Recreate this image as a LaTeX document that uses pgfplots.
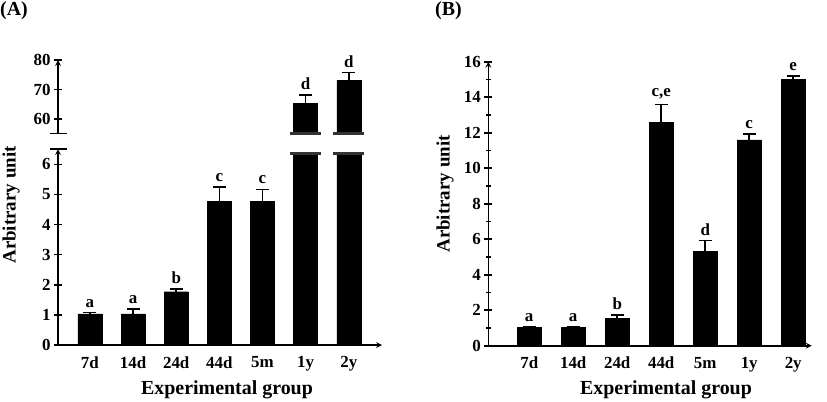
\documentclass[border=0pt]{standalone}
\usepackage{pgfplots}
\pgfplotsset{compat=1.18}
\usepackage{fontspec}
\setmainfont{Liberation Serif}
\pgfplotstableread{
x y e
0 1.03 0.05
1 1.03 0.16
2 1.77 0.10
3 4.76 0.48
4 4.76 0.41
}\Alow
\pgfplotstableread{
x y
5 6.36
6 6.36
}\Alowbig
\pgfplotstableread{
x y e
5 65.3 2.9
6 73.0 2.7
}\Aup
\pgfplotstableread{
x y e
0 1.02 0.06
1 1.02 0.05
2 1.54 0.18
3 12.58 1.02
4 5.30 0.62
5 11.59 0.32
6 15.00 0.19
}\Bdat
\tikzset{lett/.style={font=\fontsize{17}{17}\selectfont\bfseries, anchor=south, inner sep=1bp, yshift=4bp}}
\begin{document}
\begin{tikzpicture}
\path[use as bounding box] (0bp,0bp) rectangle (827bp,-402bp);
\pgfplotsset{
  base/.style={scale only axis, anchor=south west, clip mode=individual,
    axis line style={line width=1.6bp,-},
    every inner x axis line/.append style={-},
    every outer x axis line/.append style={-},
    every inner y axis line/.append style={-},
    every outer y axis line/.append style={-},
    x axis line style={-}, y axis line style={-},
    tick style={line width=1.6bp, black},
    major tick length=8bp, minor tick length=5bp,
    tick align=outside,
    tick label style={font=\fontsize{17}{17}\selectfont\bfseries},
    xticklabel style={yshift=-4bp},
    /pgf/number format/assume math mode=true,
    ybar, bar width=24bp,
    xtick style={draw=none},
    xtick={0,1,2,3,4,5,6},
    xticklabels={7d,14d,24d,44d,5m,1y,2y},
  },
  bars/.style={fill=black, draw=black, bar shift=0pt,
    error bars/.cd, y dir=plus, y explicit,
    error bar style={line width=1.6bp, black},
    error mark options={rotate=90, mark size=6.5bp, line width=1.6bp, black}},
}
% ---------- Panel A, lower ----------
\begin{axis}[base, at={(58bp,-345bp)}, width=324bp, height=196bp,
  xmin=-0.74, xmax=6.77, ymin=0, ymax=6.51,
  axis x line=bottom, axis y line=left,
  ytick={0,1,2,3,4,5,6}]
\addplot[bars] table[x=x, y=y, y error=e] {\Alow};
\addplot[fill=black, draw=black, bar shift=0pt] table[x=x, y=y] {\Alowbig};
\draw[line width=2.4bp, black!80] (axis cs:4.64,6.36) -- (axis cs:5.36,6.36);
\draw[line width=2.4bp, black!80] (axis cs:5.64,6.36) -- (axis cs:6.36,6.36);
\draw[line width=1.6bp] ([xshift=-8bp]rel axis cs:0,1) -- ([xshift=9bp]rel axis cs:0,1);
\node[lett] at (axis cs:0,1.08) {a};
\node[lett] at (axis cs:1,1.19) {a};
\node[lett] at (axis cs:2,1.87) {b};
\node[lett] at (axis cs:3,5.24) {c};
\node[lett] at (axis cs:4,5.17) {c};
\end{axis}
% ---------- Panel A, upper ----------
\begin{axis}[base, at={(58bp,-133.3bp)}, width=324bp, height=73.3bp,
  xmin=-0.74, xmax=6.77, ymin=55.15, ymax=80,
  axis x line=none, axis y line=left,
  ytick={60,70,80}, xticklabels={}]
\addplot[bars] table[x=x, y=y, y error=e] {\Aup};
\draw[line width=2.4bp, black!80] (axis cs:4.64,55.15) -- (axis cs:5.36,55.15);
\draw[line width=2.4bp, black!80] (axis cs:5.64,55.15) -- (axis cs:6.36,55.15);
\draw[line width=1.6bp] ([xshift=-8bp]rel axis cs:0,0) -- ([xshift=9bp]rel axis cs:0,0);
\node[lett] at (axis cs:5,68.2) {d};
\node[lett] at (axis cs:6,75.7) {d};
\end{axis}
% ---------- Panel B ----------
\begin{axis}[base, at={(488.3bp,-345.7bp)}, width=323.4bp, height=284bp,
  xmin=-0.93, xmax=6.42, ymin=0, ymax=16,
  axis x line=bottom, axis y line=left,
  ytick={0,2,...,16}, minor ytick={1,3,...,15}]
\addplot[bars] table[x=x, y=y, y error=e] {\Bdat};
\node[lett] at (axis cs:0,1.08) {a};
\node[lett] at (axis cs:1,1.07) {a};
\node[lett] at (axis cs:2,1.72) {b};
\node[lett] at (axis cs:3,13.6) {c,e};
\node[lett] at (axis cs:4,5.92) {d};
\node[lett] at (axis cs:5,11.91) {c};
\node[lett] at (axis cs:6,15.19) {e};
\end{axis}
% ---------- labels ----------
\node[anchor=north west, inner sep=0, font=\fontsize{20}{20}\selectfont\bfseries] at (0bp,-1bp) {(A)};
\node[anchor=north west, inner sep=0, font=\fontsize{20}{20}\selectfont\bfseries] at (435bp,-1bp) {(B)};
\node[rotate=90, inner sep=0, font=\fontsize{19}{19}\selectfont\bfseries] at (11bp,-205bp) {Arbitrary unit};
\node[rotate=90, inner sep=0, font=\fontsize{19}{19}\selectfont\bfseries] at (445bp,-194bp) {Arbitrary unit};
\node[inner sep=0, font=\fontsize{20}{20}\selectfont\bfseries] at (227bp,-390bp) {Experimental group};
\node[inner sep=0, font=\fontsize{20}{20}\selectfont\bfseries] at (666bp,-390bp) {Experimental group};
\end{tikzpicture}
\end{document}
